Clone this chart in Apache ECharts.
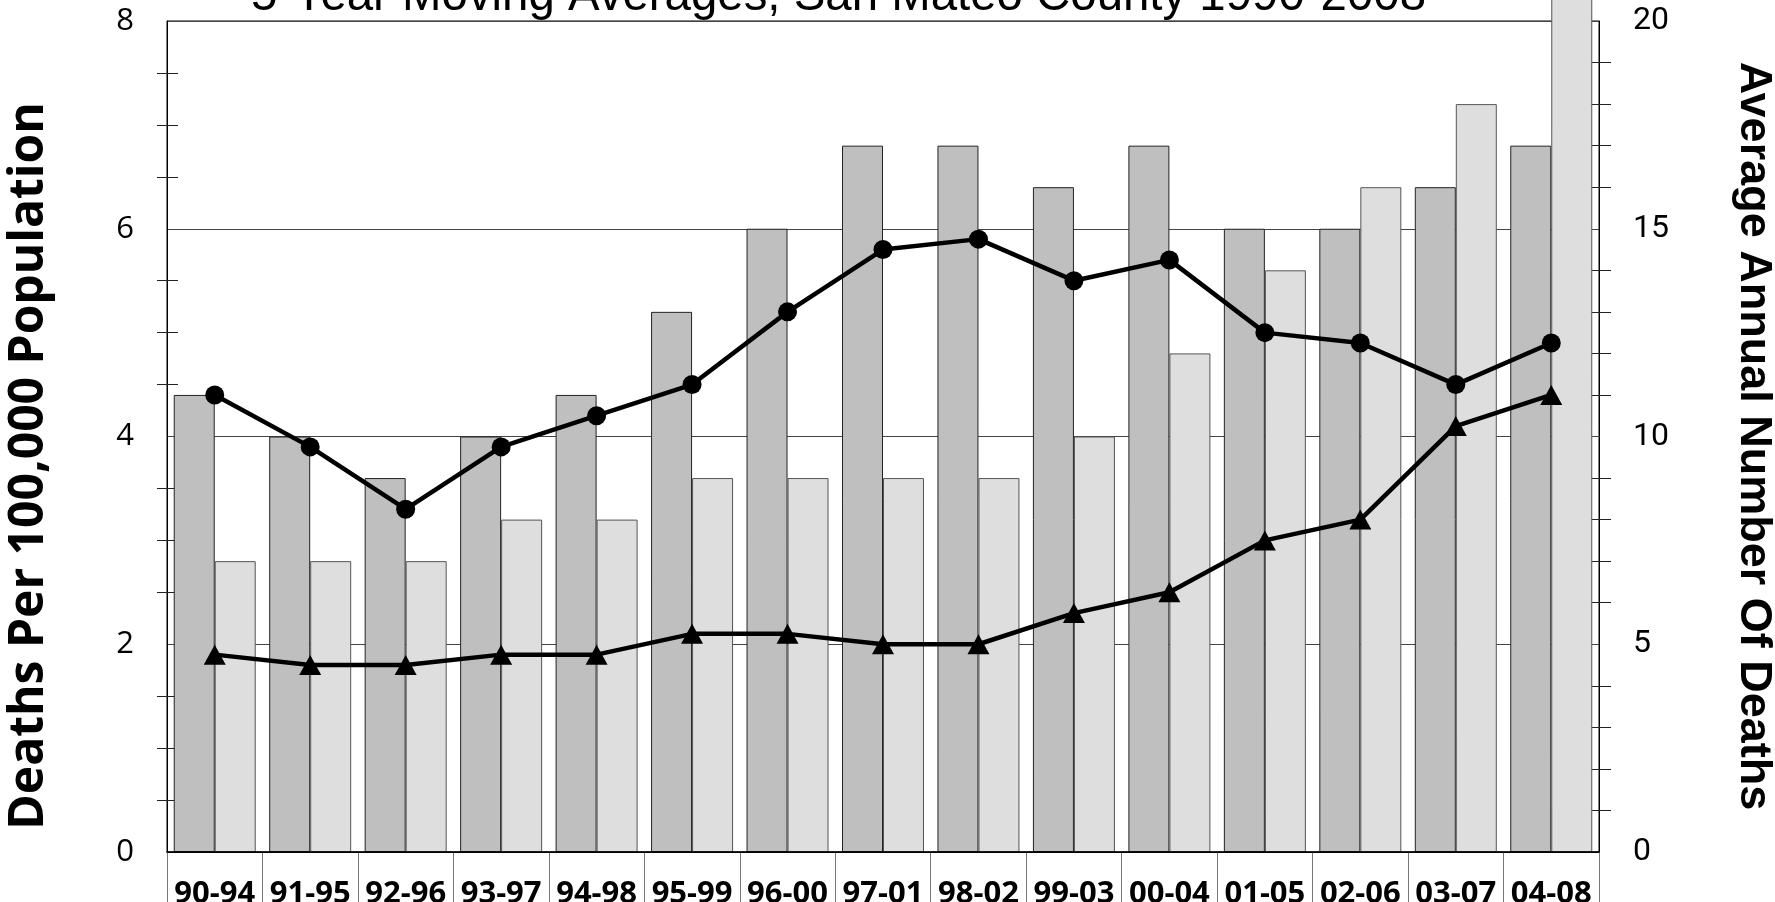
<!DOCTYPE html>
<html>
<head>
<meta charset="utf-8">
<script src="https://cdn.jsdelivr.net/npm/echarts@6/dist/echarts.min.js"></script>
<style>
	html, body { margin: 0; padding: 0; background: #fff; }
	#main { width: 1775px; height: 902px; }
</style>
</head>
<body>
<div id="main"></div>
<script>
// periods on the x axis
var periods = ['90-94', '91-95', '92-96', '93-97', '94-98', '95-99', '96-00', '97-01',
	'98-02', '99-03', '00-04', '01-05', '02-06', '03-07', '04-08'];

// bars, average annual number of deaths (right axis)
var darkBars = [11, 10, 9, 10, 11, 13, 15, 17, 17, 16, 17, 15, 15, 16, 17];
var lightBars = [7, 7, 7, 8, 8, 9, 9, 9, 9, 10, 12, 14, 16, 18, 21];

// lines, deaths per 100,000 population (left axis)
var circleLine = [4.4, 3.9, 3.3, 3.9, 4.2, 4.5, 5.2, 5.8, 5.9, 5.5, 5.7, 5.0, 4.9, 4.5, 4.9];
var triangleLine = [1.9, 1.8, 1.8, 1.9, 1.9, 2.1, 2.1, 2.0, 2.0, 2.3, 2.5, 3.0, 3.2, 4.1, 4.4];

var titleText = '5-Year Moving Averages, San Mateo County 1990-2008';
var leftName = 'Deaths Per 100,000 Population';
var rightName = 'Average Annual Number Of Deaths';

var myChart = echarts.init(document.getElementById('main'));

var tickStyle = { color: '#222', width: 1 };

var option = {
	animation: false,
	backgroundColor: '#fff',
	grid: {
		left: 167, right: 176, top: 21, bottom: 50,
		outerBoundsMode: 'none', containLabel: false,
		show: true, borderColor: '#000', borderWidth: 1, backgroundColor: 'transparent'
	},
	graphic: [
		{
			type: 'text', left: 251, top: -27, z: 100,
			style: { text: titleText, font: '47.4px "Liberation Sans", Arial', fill: '#000' }
		},
		{
			type: 'text', x: 29, y: 466, rotation: Math.PI / 2,
			style: {
				text: leftName, font: 'bold 48px "Open Sans"', fill: '#000',
				align: 'center', verticalAlign: 'middle'
			}
		},
		{
			type: 'text', x: 1753, y: 436, rotation: -Math.PI / 2,
			style: {
				text: rightName, font: 'bold 45px "Liberation Sans", Arial', fill: '#000',
				align: 'center', verticalAlign: 'middle'
			}
		}
	],
	xAxis: [
		{
			type: 'category',
			data: periods,
			boundaryGap: true,
			axisLine: { show: true, lineStyle: { color: '#000', width: 1 } },
			axisTick: { show: true, length: 52, alignWithLabel: false, lineStyle: { color: '#777', width: 1 } },
			axisLabel: {
				interval: 0, margin: 27, color: '#000',
				fontFamily: 'Open Sans', fontWeight: 'bold', fontSize: 31
			},
			splitLine: { show: false }
		},
		{
			type: 'category',
			data: periods,
			position: 'top',
			z: 10,
			axisLine: { show: true, lineStyle: { color: '#000', width: 1.5 } },
			axisTick: { show: false },
			axisLabel: { show: false },
			splitLine: { show: false }
		}
	],
	yAxis: [
		{
			type: 'value', position: 'left', min: 0, max: 8, interval: 2,
			axisLine: { show: true, lineStyle: { color: '#000', width: 1 } },
			axisTick: { show: false },
			minorTick: { show: true, splitNumber: 4, length: 10, lineStyle: tickStyle },
			axisLabel: { margin: 33, color: '#000', fontFamily: 'Open Sans', fontSize: 31 },
			splitLine: { show: true, lineStyle: { color: '#444', width: 1 } }
		},
		{
			type: 'value', position: 'left', min: 0, max: 8, interval: 2,
			axisLine: { show: false },
			axisTick: { show: false, inside: true },
			minorTick: { show: true, splitNumber: 4, length: 11, lineStyle: tickStyle },
			axisLabel: { show: false },
			splitLine: { show: false }
		},
		{
			type: 'value', position: 'right', min: 0, max: 20, interval: 5,
			axisLine: { show: true, lineStyle: { color: '#000', width: 1 } },
			axisTick: { show: false },
			minorTick: { show: true, splitNumber: 5, length: 12, lineStyle: tickStyle },
			axisLabel: { margin: 34, color: '#000', fontFamily: 'Roboto', fontSize: 32 },
			splitLine: { show: false }
		},
		{
			type: 'value', position: 'right', min: 0, max: 20, interval: 5,
			axisLine: { show: false },
			axisTick: { show: false, inside: true },
			minorTick: { show: true, splitNumber: 5, length: 10, lineStyle: tickStyle },
			axisLabel: { show: false },
			splitLine: { show: false }
		}
	],
	series: [
		{
			type: 'bar', yAxisIndex: 2, data: darkBars, barWidth: 41, barGap: '0%', clip: false,
			itemStyle: { color: '#bfbfbf', borderColor: '#222', borderWidth: 1 }
		},
		{
			type: 'bar', yAxisIndex: 2, data: lightBars, barWidth: 41, barGap: '0%', clip: false,
			itemStyle: { color: '#dedede', borderColor: '#555', borderWidth: 1 }
		},
		{
			type: 'line', yAxisIndex: 0, data: circleLine, z: 5,
			symbol: 'circle', symbolSize: 19,
			lineStyle: { color: '#000', width: 4.5 },
			itemStyle: { color: '#000' }
		},
		{
			type: 'line', yAxisIndex: 0, data: triangleLine, z: 5,
			symbol: 'triangle', symbolSize: [22, 20],
			lineStyle: { color: '#000', width: 4.5 },
			itemStyle: { color: '#000' }
		}
	]
};

myChart.setOption(option);
</script>
</body>
</html>
